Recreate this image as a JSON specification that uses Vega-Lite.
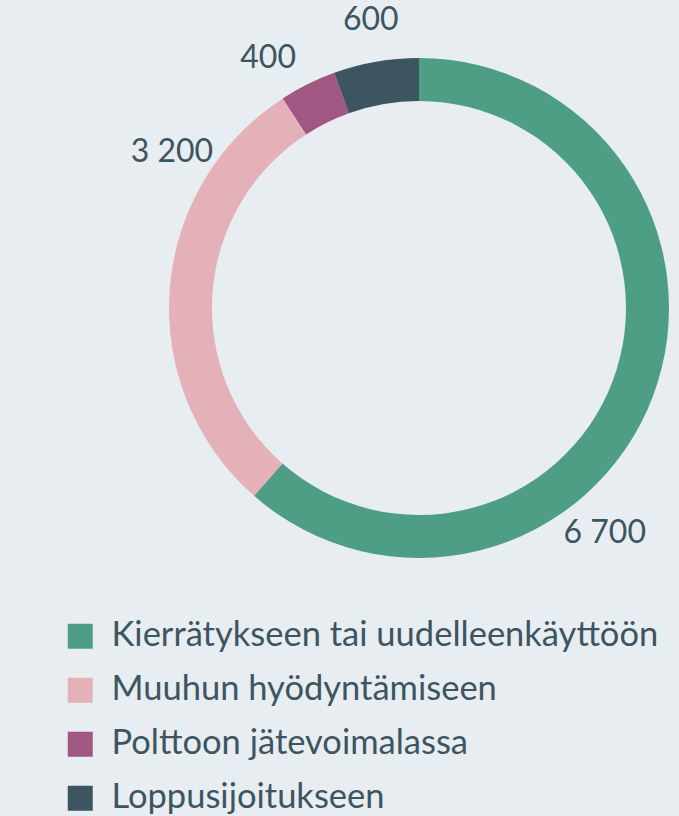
{
  "$schema": "https://vega.github.io/schema/vega-lite/v6.json",
  "width": 500,
  "height": 500,
  "autosize": {"type": "none"},
  "padding": {"left": 169, "top": 58, "right": 10, "bottom": 258},
  "background": "#e8edf2",
  "config": {"view": {"stroke": null}, "font": "Lato"},
  "layer": [
    {
      "data": {"values": [
        {"kategoria": "Kierrätykseen tai uudelleenkäyttöön", "tonnia": 6700, "jarjestys": 1},
        {"kategoria": "Muuhun hyödyntämiseen", "tonnia": 3200, "jarjestys": 2},
        {"kategoria": "Polttoon jätevoimalassa", "tonnia": 400, "jarjestys": 3},
        {"kategoria": "Loppusijoitukseen", "tonnia": 600, "jarjestys": 4}
      ]},
      "mark": {"type": "arc", "innerRadius": 207, "outerRadius": 250},
      "encoding": {
        "theta": {"field": "tonnia", "type": "quantitative", "stack": true},
        "order": {"field": "jarjestys", "type": "quantitative"},
        "color": {
          "field": "kategoria",
          "type": "nominal",
          "scale": {
            "domain": ["Kierrätykseen tai uudelleenkäyttöön", "Muuhun hyödyntämiseen", "Polttoon jätevoimalassa", "Loppusijoitukseen"],
            "range": ["#4e9e86", "#e5b1b9", "#a05781", "#3c5561"]
          },
          "legend": {
            "title": null,
            "orient": "none",
            "legendX": -106,
            "legendY": 561,
            "symbolType": "square",
            "symbolSize": 625,
            "symbolStrokeWidth": 0,
            "symbolOpacity": 1,
            "labelFontSize": 34.5,
            "labelColor": "#3d5560",
            "labelOffset": 14,
            "labelLimit": 0,
            "rowPadding": 19,
            "padding": 0
          }
        }
      }
    },
    {
      "data": {"values": [
        {"teksti": "6 700", "kohta": 4254},
        {"teksti": "3 200", "kohta": 9150},
        {"teksti": "400", "kohta": 9958},
        {"teksti": "600", "kohta": 10612}
      ]},
      "mark": {"type": "text", "radius": 292, "fontSize": 32, "color": "#3d5560"},
      "encoding": {
        "theta": {"field": "kohta", "type": "quantitative", "stack": null, "scale": {"domain": [0, 10900]}},
        "text": {"field": "teksti", "type": "nominal"}
      }
    }
  ],
  "resolve": {"scale": {"theta": "independent"}}
}
